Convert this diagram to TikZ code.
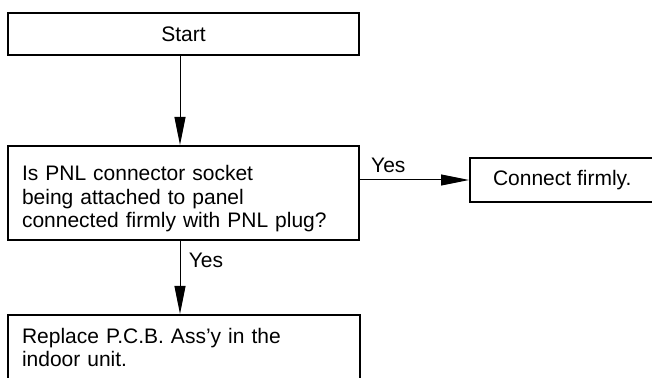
\documentclass[tikz,border=0pt]{standalone}
\usepackage{fontspec}
\setmainfont{Liberation Sans}
\usetikzlibrary{arrows.meta,positioning}

\begin{document}
\begin{tikzpicture}[x=1pt,y=1pt,box/.style={draw,line width=2pt,font=\fontsize{21}{23.5}\selectfont},arr/.style={-{Triangle[length=28pt,width=11pt]},line width=1pt},lbl/.style={font=\fontsize{21}{23.5}\selectfont}]
    \fill[white] (0,0) rectangle (652,377);
    \useasboundingbox (0,0) rectangle (652,377);
    \clip (0,0) rectangle (652,377);
    \node[box,minimum width=351pt,minimum height=42pt] (s) at (183.5,343) {Start};
    \node[box,minimum height=94pt,text width=323pt,inner xsep=14pt,align=left] (q) at (183.5,184) {\rule{0pt}{27pt}Is PNL connector socket\\being attached to panel\\connected firmly with PNL plug?};
    \node[box,anchor=west,minimum height=44pt,inner xsep=23pt] (c) at (469,197) {\makebox[194pt][l]{Connect firmly.}};
    \node[box,anchor=north,text width=324pt,inner xsep=14pt,inner ysep=13pt,align=left] (r) at (184,63) {Replace P.C.B. Ass'y in the\\indoor unit.};
    \draw[arr] ([xshift=-3.5pt]s.south)--([xshift=-3.5pt]q.north);
    \draw[arr] (q.east |- c.west)--node[lbl,pos=0.26,above=3pt]{Yes}(c.west);
    \draw[arr] ([xshift=-3.5pt]q.south)--node[lbl,pos=0.27,right=5pt]{Yes}([xshift=-4pt]r.north);
  \end{tikzpicture}
\end{document}
